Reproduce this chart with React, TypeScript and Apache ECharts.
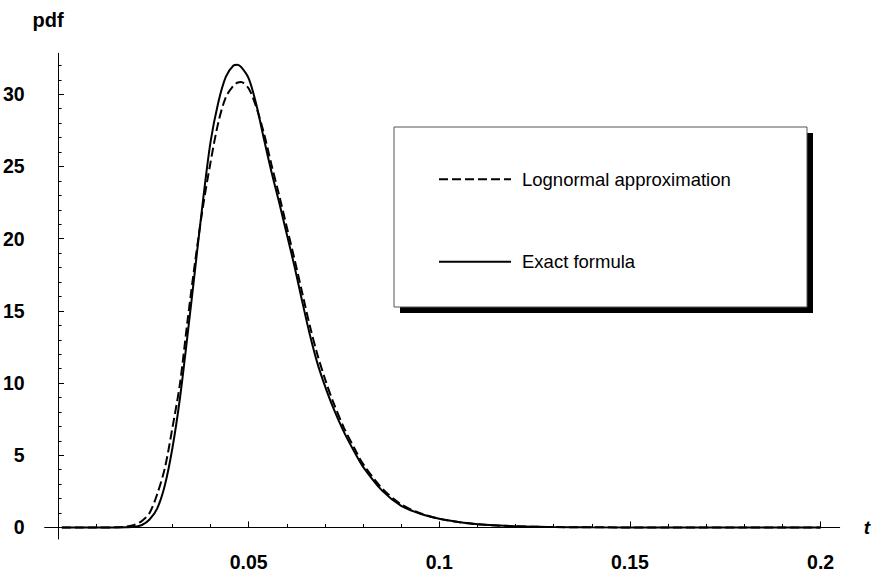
import React, { useEffect, useRef } from 'react';
import * as echarts from 'echarts';

const tValues = [
  0.001, 0.005, 0.01, 0.015, 0.018, 0.02, 0.022, 0.024, 0.026, 0.028, 0.03, 0.032,
  0.034, 0.036, 0.038, 0.04, 0.042, 0.044, 0.046, 0.047, 0.048, 0.05, 0.052, 0.054,
  0.056, 0.058, 0.06, 0.062, 0.064, 0.066, 0.068, 0.07, 0.072, 0.075, 0.078, 0.08,
  0.085, 0.09, 0.095, 0.1, 0.105, 0.11, 0.12, 0.13, 0.14, 0.16, 0.18, 0.2,
];

const exactPdf = [
  0, 0, 0, 0, 0.01, 0.04, 0.17, 0.55, 1.3, 2.9, 5.5, 9.0,
  13.4, 18.0, 22.6, 26.7, 29.4, 31.2, 32.0, 32.05, 31.9, 31.1, 29.3, 26.9,
  24.6, 22.5, 20.3, 18.1, 15.7, 13.4, 11.4, 9.8, 8.4, 6.6, 5.1, 4.2,
  2.55, 1.5, 0.95, 0.6, 0.38, 0.23, 0.08, 0.03, 0.01, 0, 0, 0,
];

const lognormalPdf = [
  0, 0, 0, 0.01, 0.06, 0.17, 0.45, 1.0, 2.3, 4.1, 6.9, 10.0,
  14.4, 18.5, 22.2, 25.3, 28.0, 29.8, 30.6, 30.8, 30.85, 30.4, 29.1, 27.3,
  25.1, 23.0, 20.8, 18.6, 16.3, 14.0, 12.0, 10.3, 8.8, 6.9, 5.35, 4.4,
  2.7, 1.6, 0.98, 0.6, 0.37, 0.22, 0.08, 0.03, 0.01, 0, 0, 0,
];

const xMajorTicks = [0.05, 0.1, 0.15, 0.2];
const xMinorTicks = [
  0.01, 0.02, 0.03, 0.04, 0.06, 0.07, 0.08, 0.09, 0.11, 0.12, 0.13, 0.14,
  0.16, 0.17, 0.18, 0.19,
];
const yMajorTicks = [5, 10, 15, 20, 25, 30];
const yLabelValues = [0, 5, 10, 15, 20, 25, 30];
const yMinorTicks = [
  1, 2, 3, 4, 6, 7, 8, 9, 11, 12, 13, 14, 16, 17, 18, 19, 21, 22, 23, 24, 26,
  27, 28, 29, 31, 32,
];

const seriesNames = ['Lognormal approximation', 'Exact formula'];

const FONT = '"Liberation Sans", Arial, Helvetica, sans-serif';

export default function App() {
  const ref = useRef<HTMLDivElement | null>(null);

  useEffect(() => {
    if (!ref.current) return;
    const chart = echarts.init(ref.current, undefined, { renderer: 'svg' });

    const exactData = tValues.map((t, i) => [t, exactPdf[i]]);
    const lognData = tValues.map((t, i) => [t, lognormalPdf[i]]);

    const xBase = {
      type: 'value',
      min: -0.0035,
      max: 0.205,
      splitLine: { show: false },
      gridIndex: 0,
    };
    const yBase = {
      type: 'value',
      min: -0.8,
      max: 32.84,
      splitLine: { show: false },
      gridIndex: 0,
    };

    chart.setOption({
      animation: false,
      backgroundColor: '#ffffff',
      grid: { left: 40, top: 53.3, width: 805, height: 497.8, containLabel: false },
      xAxis: [
        {
          ...xBase,
          position: 'bottom',
          axisLine: { show: true, onZero: true, lineStyle: { color: '#000', width: 1 } },
          axisTick: {
            show: true,
            inside: true,
            length: 6,
            customValues: xMajorTicks,
            lineStyle: { color: '#000', width: 1 },
          },
          axisLabel: {
            show: true,
            customValues: xMajorTicks,
            margin: 13,
            fontSize: 19.5,
            fontWeight: 'bold',
            color: '#000',
            fontFamily: FONT,
          },
          name: 't',
          nameLocation: 'end',
          nameGap: 24,
          nameTextStyle: {
            fontSize: 19,
            fontStyle: 'italic',
            fontWeight: 'bold',
            color: '#000',
            fontFamily: FONT,
          },
        },
        {
          ...xBase,
          position: 'bottom',
          axisLine: { show: false, onZero: true, onZeroAxisIndex: 0 },
          axisTick: {
            show: true,
            inside: true,
            length: 3.5,
            customValues: xMinorTicks,
            lineStyle: { color: '#000', width: 1 },
          },
          axisLabel: { show: false },
        },
      ],
      yAxis: [
        {
          ...yBase,
          position: 'left',
          axisLine: { show: true, onZero: true, lineStyle: { color: '#000', width: 1 } },
          axisTick: {
            show: true,
            inside: true,
            length: 6,
            customValues: yMajorTicks,
            lineStyle: { color: '#000', width: 1 },
          },
          axisLabel: {
            show: true,
            customValues: yLabelValues,
            margin: 20,
            fontSize: 19.5,
            fontWeight: 'bold',
            color: '#000',
            fontFamily: FONT,
          },
          name: 'pdf',
          nameLocation: 'end',
          nameGap: 23,
          nameTextStyle: {
            fontSize: 20,
            fontWeight: 'bold',
            color: '#000',
            fontFamily: FONT,
            padding: [0, 20, 0, 0],
          },
        },
        {
          ...yBase,
          position: 'left',
          axisLine: { show: false, onZero: true, onZeroAxisIndex: 0 },
          axisTick: {
            show: true,
            inside: true,
            length: 3.5,
            customValues: yMinorTicks,
            lineStyle: { color: '#000', width: 1 },
          },
          axisLabel: { show: false },
        },
      ],
      legend: {
        show: true,
        orient: 'vertical',
        left: 433,
        top: 164.3,
        itemWidth: 72,
        itemHeight: 20,
        itemGap: 62.4,
        data: seriesNames,
        itemStyle: { opacity: 0 },
        textStyle: {
          fontSize: 18.5,
          color: '#000',
          fontFamily: FONT,
          lineHeight: 20,
          padding: [0, 0, 0, 6],
        },
        z: 10,
      },
      graphic: [
        {
          type: 'rect',
          z: 5,
          shape: { x: 400, y: 133, width: 413, height: 180 },
          style: { fill: '#000' },
        },
        {
          type: 'rect',
          z: 6,
          shape: { x: 394, y: 127, width: 413, height: 180 },
          style: { fill: '#fff', stroke: '#555', lineWidth: 1 },
        },
      ],
      series: [
        {
          name: seriesNames[0],
          type: 'line',
          xAxisIndex: 0,
          yAxisIndex: 0,
          data: lognData,
          symbol: 'none',
          showSymbol: false,
          smooth: 0.3,
          lineStyle: { color: '#000', width: 2, type: [9, 4] },
          itemStyle: { color: '#000' },
          z: 2,
        },
        {
          name: seriesNames[1],
          type: 'line',
          xAxisIndex: 0,
          yAxisIndex: 0,
          data: exactData,
          symbol: 'none',
          showSymbol: false,
          smooth: 0.3,
          lineStyle: { color: '#000', width: 2, type: 'solid' },
          itemStyle: { color: '#000' },
          z: 3,
        },
      ],
    });

    return () => {
      chart.dispose();
    };
  }, []);

  return (
    <div
      ref={ref}
      style={{ position: 'absolute', left: 0, top: 0, width: 873, height: 572 }}
    />
  );
}
